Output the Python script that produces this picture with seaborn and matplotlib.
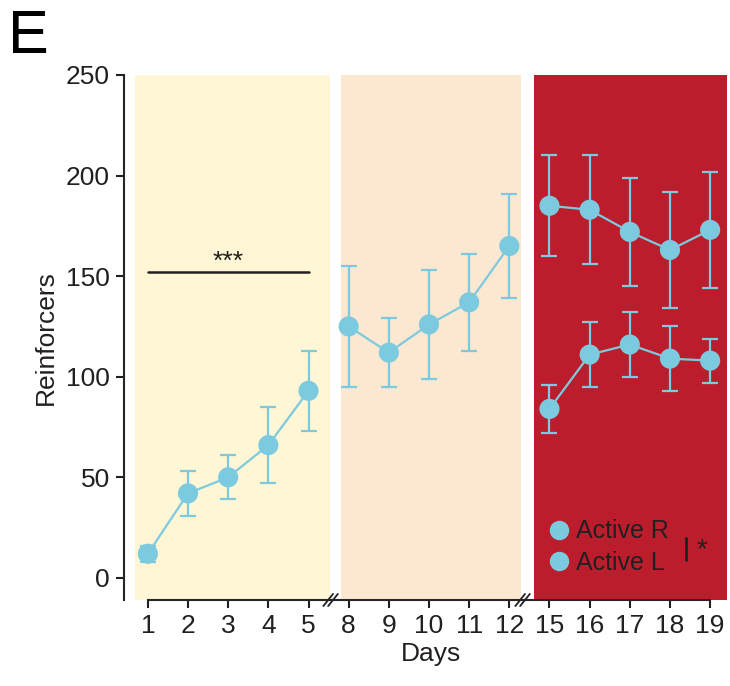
import numpy as np
import pandas as pd
import seaborn as sns
import matplotlib.pyplot as plt
from matplotlib.lines import Line2D

# ------------------------------------------------------
# data
# ------------------------------------------------------
day_labels = ["1", "2", "3", "4", "5", "8", "9", "10", "11", "12",
              "15", "16", "17", "18", "19"]

acq_mean = [12, 42, 50, 66, 93]
acq_sem = [4, 11, 11, 19, 20]

mid_mean = [125, 112, 126, 137, 165]
mid_sem = [30, 17, 27, 24, 26]

right_mean = [185, 183, 172, 163, 173]
right_sem = [25, 27, 27, 29, 29]

left_mean = [84, 111, 116, 109, 108]
left_sem = [12, 16, 16, 16, 11]

sig_days = ["1", "5"]
sig_y = 152

# ------------------------------------------------------
# style
# ------------------------------------------------------
sns.set_style("ticks")
plt.rcParams["font.family"] = ["Liberation Sans Narrow", "Liberation Sans", "DejaVu Sans"]
ink = "#231F20"
cyan = "#7CCADF"
bg_colors = ["#FEF6D4", "#FCE7D1", "#BC1D2C"]

pos = {d: i for i, d in enumerate(day_labels)}

df = pd.concat([
    pd.DataFrame({"day": day_labels[0:5], "mean": acq_mean, "sem": acq_sem, "seg": "acq"}),
    pd.DataFrame({"day": day_labels[5:10], "mean": mid_mean, "sem": mid_sem, "seg": "mid"}),
    pd.DataFrame({"day": day_labels[10:15], "mean": right_mean, "sem": right_sem, "seg": "R"}),
    pd.DataFrame({"day": day_labels[10:15], "mean": left_mean, "sem": left_sem, "seg": "L"}),
], ignore_index=True)
df["pos"] = df["day"].map(pos)

fig = plt.figure(figsize=(7.3, 6.86), dpi=100)
ax = fig.add_axes([135 / 730, 86 / 686, 592 / 730, 525 / 686])

# background blocks
ax.axvspan(-0.32, 4.53, color=bg_colors[0], lw=0, zorder=0)
ax.axvspan(4.81, 9.29, color=bg_colors[1], lw=0, zorder=0)
ax.axvspan(9.61, 14.45, color=bg_colors[2], lw=0, zorder=0)

ax.errorbar(df["pos"], df["mean"], yerr=df["sem"], fmt="none",
            ecolor=cyan, elinewidth=1.6, capsize=6, capthick=1.6, zorder=2)
sns.lineplot(data=df, x="pos", y="mean", units="seg", estimator=None,
             color=cyan, lw=1.6, ax=ax, zorder=3, legend=False)
sns.scatterplot(data=df, x="pos", y="mean", color=cyan, s=210,
                edgecolor="none", ax=ax, zorder=4, legend=False)

# significance bar
ax.plot([pos[sig_days[0]], pos[sig_days[1]]], [sig_y, sig_y], color=ink, lw=1.8)
ax.text((pos[sig_days[0]] + pos[sig_days[1]]) / 2, sig_y - 1, "***",
        ha="center", va="bottom", fontsize=19, color=ink)

# axes
ax.set_xlim(-0.32, 14.42)
ax.set_ylim(-11, 250)
ax.set_xticks(range(len(day_labels)))
ax.set_xticklabels(day_labels)
ax.set_yticks([0, 50, 100, 150, 200, 250])
ax.tick_params(labelsize=19, length=6, width=1.5, colors=ink, pad=4)
sns.despine(ax=ax)
ax.spines["left"].set_position(("outward", 8))
ax.spines["left"].set_linewidth(1.5)
ax.spines["bottom"].set_linewidth(1.5)
ax.spines["bottom"].set_bounds(0, 14)
ax.set_xlabel("Days", fontsize=19, color=ink, labelpad=3)
ax.set_ylabel("Reinforcers", fontsize=19, color=ink, labelpad=6)

# axis break marks
for xb in [4.55, 9.33]:
    for dx in [-0.06, 0.06]:
        ax.plot([xb + dx - 0.12, xb + dx + 0.12], [-14, -8], color=ink,
                lw=1.3, clip_on=False, zorder=6)

# legend
handles = [Line2D([], [], marker="o", ls="none", color=cyan, markersize=13),
           Line2D([], [], marker="o", ls="none", color=cyan, markersize=13)]
leg = ax.legend(handles, ["Active R", "Active L"], loc="lower left",
                bbox_to_anchor=(0.695, 0.048), frameon=False, fontsize=18,
                handletextpad=0.2, labelspacing=0.3, handlelength=1.0,
                borderaxespad=0, borderpad=0)
for t in leg.get_texts():
    t.set_color(ink)
ax.plot([13.4, 13.4], [9, 20], color=ink, lw=2)
ax.text(13.65, 14, "*", fontsize=20, color=ink, ha="left", va="center")

fig.text(8 / 730, 1 - 53 / 686, "E", fontsize=44, color="black", va="baseline")

fig.savefig("out.png", dpi=100)
